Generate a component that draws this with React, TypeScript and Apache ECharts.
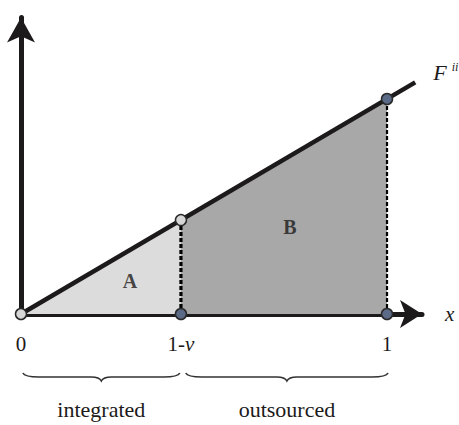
import React, { useEffect, useRef } from "react";
import * as echarts from "echarts";

// ---- data ----
const xTicks = [0, 0.437, 1];
const tickLabels = ["0", "1-v", "1"];
const lineX = [0, 1.077]; // F line extent (F(x) = x)
const lineY = [0, 1.077];
const cutoff = 0.437; // 1 - v
const openPoints = [
  [0, 0],
  [0.437, 0.437],
];
const filledPoints = [
  [0.437, 0],
  [1, 0],
  [1, 1],
];
const regionNames = ["A", "B"];
const regionPos = [
  [0.298, 0.153],
  [0.735, 0.405],
];
const braceRanges = [
  [0.005, 0.434],
  [0.45, 1.003],
];
const braceLabels = ["integrated", "outsourced"];

const SERIF = "Times New Roman, Liberation Serif, serif";
const INK = "#1c1a1a";

export default function App() {
  const ref = useRef<HTMLDivElement>(null);
  useEffect(() => {
    const chart = echarts.init(ref.current!, null, { renderer: "svg" });
    const option: any = {
      animation: false,
      backgroundColor: "#ffffff",
      textStyle: { fontFamily: SERIF },
      grid: { left: 21, right: 37, top: 17.5, bottom: 111, outerBoundsMode: "none", containLabel: false },
      xAxis: {
        type: "value",
        min: 0,
        max: 1.0956,
        name: "x",
        nameLocation: "end",
        nameGap: 23,
        nameTextStyle: { fontFamily: SERIF, fontStyle: "italic", fontSize: 21, color: INK, padding: [0, 0, 8, 0] },
        axisLine: {
          show: true,
          onZero: false,
          symbol: ["none", "arrow"],
          symbolSize: [21, 22],
          lineStyle: { color: INK, width: 5 },
        },
        axisTick: { show: false },
        splitLine: { show: false },
        axisLabel: {
          show: true,
          customValues: xTicks,
          margin: 19,
          fontFamily: SERIF,
          fontSize: 21,
          color: INK,
          formatter: (v: number) => {
            const i = xTicks.indexOf(v);
            const t = i >= 0 ? tickLabels[i] : "";
            if (t === "1-v") return "{r|1-}{i|v}";
            return "{r|" + t + "}";
          },
          rich: {
            r: { fontFamily: SERIF, fontSize: 21, color: INK },
            i: { fontFamily: SERIF, fontSize: 21, fontStyle: "italic", color: INK },
          },
        },
      },
      yAxis: {
        type: "value",
        min: 0,
        max: 1.379,
        axisLine: {
          show: true,
          onZero: false,
          symbol: ["none", "arrow"],
          symbolSize: [21, 25],
          lineStyle: { color: INK, width: 5 },
        },
        axisTick: { show: false },
        splitLine: { show: false },
        axisLabel: { show: false },
      },
      series: [
        {
          type: "line",
          name: "areaA",
          data: [
            [lineX[0], lineY[0]],
            [cutoff, cutoff],
          ],
          symbol: "none",
          lineStyle: { width: 0 },
          areaStyle: { color: "#dcdcdc", opacity: 1 },
          z: 1,
          silent: true,
        },
        {
          type: "line",
          name: "areaB",
          data: [
            [cutoff, cutoff],
            [1, 1],
          ],
          symbol: "none",
          lineStyle: { width: 0 },
          areaStyle: { color: "#a8a8a8", opacity: 1 },
          z: 1,
          silent: true,
        },
        {
          type: "line",
          name: "dropA",
          data: [
            [cutoff, 0],
            [cutoff, cutoff],
          ],
          symbol: "none",
          lineStyle: { color: "#000", width: 3.2, type: [4, 2] },
          z: 3,
          silent: true,
        },
        {
          type: "line",
          name: "dropB",
          data: [
            [1, 0],
            [1, 1],
          ],
          symbol: "none",
          lineStyle: { color: "#000", width: 2.2, type: [4, 2] },
          z: 3,
          silent: true,
        },
        {
          type: "line",
          name: "F",
          data: lineX.map((x, i) => [x, lineY[i]]),
          symbol: "none",
          lineStyle: { color: INK, width: 4.5 },
          z: 4,
          silent: true,
          endLabel: {
            show: true,
            distance: 18,
            offset: [0, -10],
            formatter: () => "{f|F}{s|ii}",
            rich: {
              f: { fontFamily: SERIF, fontStyle: "italic", fontSize: 22, color: INK },
              s: { fontFamily: SERIF, fontStyle: "italic", fontSize: 12, color: INK, verticalAlign: "top", padding: [0, 0, 0, 5] },
            },
          },
        },
        {
          type: "scatter",
          name: "regions",
          data: regionNames.map((n, i) => ({ name: n, value: regionPos[i] })),
          symbolSize: 1,
          itemStyle: { color: "rgba(0,0,0,0)" },
          z: 5,
          silent: true,
          label: {
            show: true,
            position: "inside",
            formatter: (p: any) => p.name,
            fontFamily: SERIF,
            fontWeight: "bold",
            fontSize: 20,
            color: INK,
          },
        },
        {
          type: "scatter",
          name: "open",
          data: openPoints,
          symbol: "circle",
          symbolSize: 11,
          itemStyle: { color: "#d7d7d7", borderColor: "#2a2a2a", borderWidth: 1.5, opacity: 1 },
          z: 6,
          silent: true,
        },
        {
          type: "scatter",
          name: "filled",
          data: filledPoints,
          symbol: "circle",
          symbolSize: 11,
          itemStyle: { color: "#5b6a86", borderColor: "#2a2a2a", borderWidth: 1.5, opacity: 1 },
          z: 6,
          silent: true,
        },
        {
          type: "custom",
          name: "braces",
          coordinateSystem: "cartesian2d",
          clip: false,
          silent: true,
          z: 6,
          data: braceRanges.map((r, i) => [r[0], r[1], i]),
          encode: { x: [0, 1] },
          renderItem: (params: any, api: any) => {
            const i = params.dataIndex;
            const a = api.coord([api.value(0), 0]);
            const b = api.coord([api.value(1), 0]);
            const xa = a[0];
            const xb = b[0];
            const y = a[1] + 59;
            const h = 8;
            const mid = (xa + xb) / 2;
            const d =
              `M${xa},${y} Q${xa + 2},${y + h / 2} ${xa + 16},${y + h / 2} ` +
              `L${mid - 10},${y + h / 2} Q${mid - 2},${y + h / 2} ${mid},${y + h} ` +
              `Q${mid + 2},${y + h / 2} ${mid + 10},${y + h / 2} ` +
              `L${xb - 16},${y + h / 2} Q${xb - 2},${y + h / 2} ${xb},${y}`;
            return {
              type: "group",
              children: [
                {
                  type: "path",
                  shape: { pathData: d },
                  style: { fill: "none", stroke: "#333", lineWidth: 1.6 },
                },
                {
                  type: "text",
                  style: {
                    text: braceLabels[i],
                    x: mid,
                    y: a[1] + 95,
                    align: "center",
                    verticalAlign: "middle",
                    fontFamily: SERIF,
                    fontSize: 22,
                    fill: INK,
                  },
                },
              ],
            };
          },
        },
      ],
    };
    chart.setOption(option);
    return () => chart.dispose();
  }, []);
  return (
    <div
      ref={ref}
      style={{ position: "absolute", left: 0, top: 0, width: 459, height: 425 }}
    />
  );
}
